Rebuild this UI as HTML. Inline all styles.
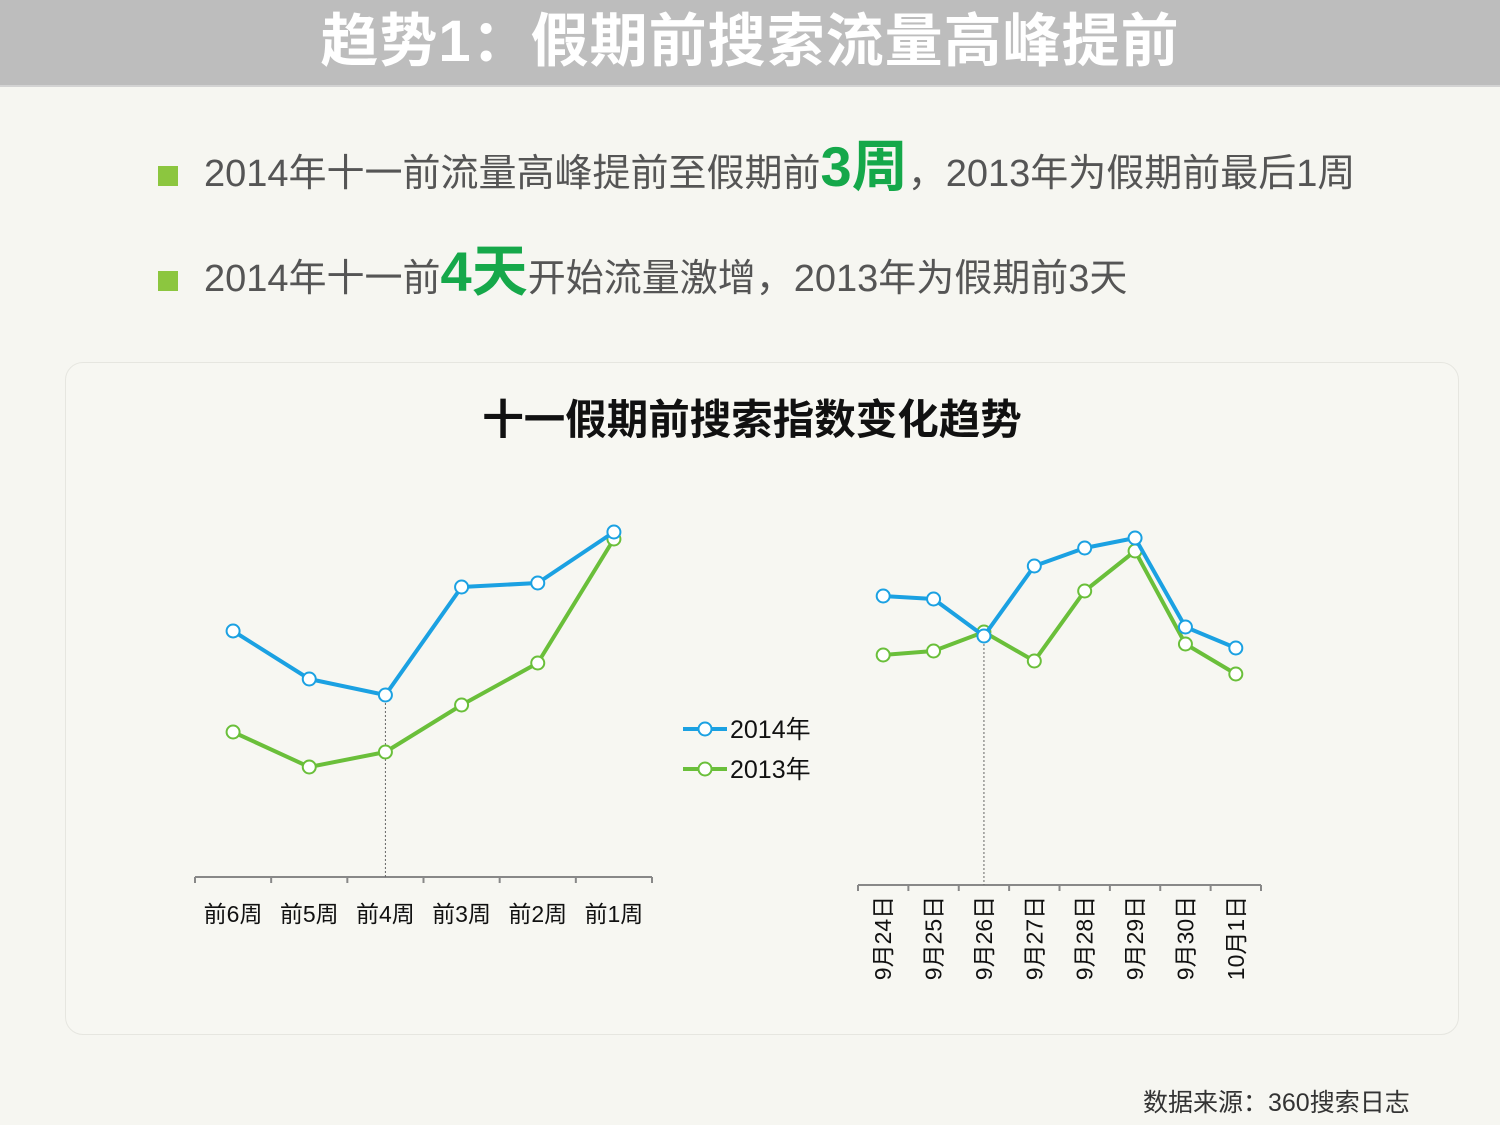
<!DOCTYPE html>
<html><head><meta charset="utf-8"><style>
body{margin:0;width:1500px;height:1125px;background:#f6f6f1;font-family:"Liberation Sans","Noto Sans CJK SC",sans-serif;overflow:hidden;position:relative}
.hdr{position:absolute;left:0;top:0;width:1500px;height:85px;background:#bdbdbd;border-bottom:2px solid #d3d3d3}
.hdr h1{margin:0;text-align:center;color:#fff;font-size:58px;line-height:84px;font-weight:bold;letter-spacing:1px}
.b{position:absolute;left:158px;font-size:38px;color:#555;white-space:nowrap}
.b .sq{display:inline-block;width:20px;height:20px;background:#8cc63f;margin-right:26px;vertical-align:middle}
.g{color:#15a84a;font-weight:bold;font-size:56px}
.panel{position:absolute;left:65px;top:362px;width:1392px;height:671px;border:1px solid #e6e6e0;border-radius:18px;background:#f7f7f2}
.src{position:absolute;left:1143px;top:1083px;font-size:25px;color:#333}
</style></head><body>
<div class="hdr"><h1>趋势1：假期前搜索流量高峰提前</h1></div>
<div class="b" style="top:122px"><span class="sq"></span>2014年十一前流量高峰提前至假期前<span class="g">3周</span>，2013年为假期前最后1周</div>
<div class="b" style="top:227px"><span class="sq"></span>2014年十一前<span class="g">4天</span>开始流量激增，2013年为假期前3天</div>
<div class="panel"></div>
<svg id="c" width="1500" height="1125" style="position:absolute;left:0;top:0">
<text x="752" y="434" text-anchor="middle" font-size="41.5" font-weight="bold" fill="#111">十一假期前搜索指数变化趋势</text>
</svg>
<div class="src">数据来源：360搜索日志</div>
<script>
const weekCats=["前6周","前5周","前4周","前3周","前2周","前1周"];
const week2014=[61.5,49.5,45.5,72.5,73.5,86.25];
const week2013=[36.25,27.5,31.25,43,53.5,84.5];
const dayCats=["9月24日","9月25日","9月26日","9月27日","9月28日","9月29日","9月30日","10月1日"];
const day2014=[72.25,71.5,62.25,79.75,84.25,86.75,64.5,59.25];
const day2013=[57.5,58.5,63.25,56,73.5,83.5,60.25,52.75];
const NS="http://www.w3.org/2000/svg",svg=document.getElementById('c');
function mk(t,a){const e=document.createElementNS(NS,t);for(const k in a)e.setAttribute(k,a[k]);svg.appendChild(e);return e;}
function chart(cats,s14,s13,x0,x1,axY,rot,dashIdx,pfx){
 const bw=(x1-x0)/cats.length,X=i=>x0+bw*(i+0.5),Y=v=>axY-v*4;
 let ax=mk('line',{x1:x0,x2:x1,y1:axY,y2:axY,stroke:'#888','stroke-width':2});
 
 for(let i=0;i<=cats.length;i++)mk('line',{x1:x0+bw*i,x2:x0+bw*i,y1:axY,y2:axY+6,stroke:'#888','stroke-width':2});
 cats.forEach((c,i)=>{let t;
  if(rot){t=mk('text',{x:0,y:0,'font-size':23,fill:'#111','text-anchor':'middle',transform:`translate(${X(i)+8},${axY+53}) rotate(-90)`});}
  else{t=mk('text',{x:X(i),y:axY+45,'font-size':23,fill:'#111','text-anchor':'middle'});}
  t.textContent=c;});
 const mx=Math.max(s14[dashIdx],s13[dashIdx]);
 mk('line',{x1:X(dashIdx),x2:X(dashIdx),y1:Y(mx),y2:axY,stroke:'#666','stroke-width':1,'stroke-dasharray':'2,2'});
 [[s13,'#6abf3a','2013'],[s14,'#1ba1e2','2014']].forEach(([s,col,yr])=>{
  const l=mk('polyline',{points:s.map((v,i)=>X(i)+','+Y(v)).join(' '),fill:'none',stroke:col,'stroke-width':4,'stroke-linejoin':'round'});
  
  s.forEach((v,i)=>{const p=mk('circle',{cx:X(i),cy:Y(v),r:6.5,fill:'#fff',stroke:col,'stroke-width':2});
   });
 });
}
chart(weekCats,week2014,week2013,195,652,877,false,2,'weekly');
chart(dayCats,day2014,day2013,858,1261,885,true,2,'daily');
[['2014年','#1ba1e2',729],['2013年','#6abf3a',769]].forEach(([t,c,y])=>{
 const l=mk('line',{x1:683,x2:727,y1:y,y2:y,stroke:c,'stroke-width':4});
 
 mk('circle',{cx:705,cy:y,r:6.5,fill:'#fff',stroke:c,'stroke-width':2});
 const tx=mk('text',{x:730,y:y+9,'font-size':25,fill:'#111'});tx.textContent=t;
 
});
</script>
</body></html>
